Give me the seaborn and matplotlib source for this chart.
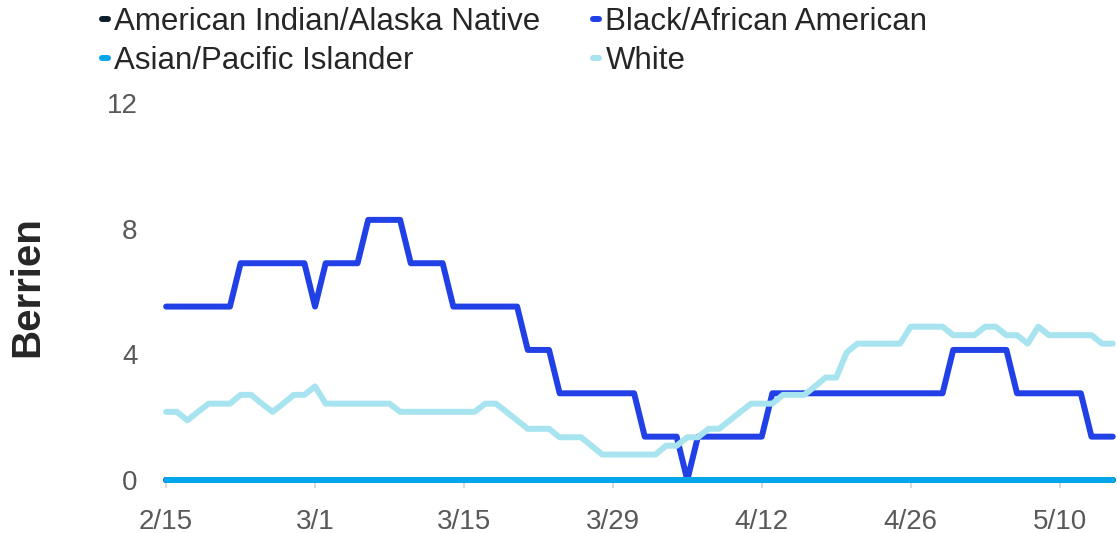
import pandas as pd
import matplotlib
matplotlib.use("Agg")
import matplotlib.pyplot as plt
import matplotlib.dates as mdates
from matplotlib.lines import Line2D
import seaborn as sns

# daily rates, 2/15 - 5/15
start_date = "2021-02-15"
n_days = 90

am_indian = [0.0] * n_days
asian = [0.0] * n_days

black = [
    5.52, 5.52, 5.52, 5.52, 5.52, 5.52, 5.52, 6.90, 6.90, 6.90,
    6.90, 6.90, 6.90, 6.90, 5.52, 6.90, 6.90, 6.90, 6.90, 8.28,
    8.28, 8.28, 8.28, 6.90, 6.90, 6.90, 6.90, 5.52, 5.52, 5.52,
    5.52, 5.52, 5.52, 5.52, 4.14, 4.14, 4.14, 2.76, 2.76, 2.76,
    2.76, 2.76, 2.76, 2.76, 2.76, 1.38, 1.38, 1.38, 1.38, 0.00,
    1.38, 1.38, 1.38, 1.38, 1.38, 1.38, 1.38, 2.76, 2.76, 2.76,
    2.76, 2.76, 2.76, 2.76, 2.76, 2.76, 2.76, 2.76, 2.76, 2.76,
    2.76, 2.76, 2.76, 2.76, 4.14, 4.14, 4.14, 4.14, 4.14, 4.14,
    2.76, 2.76, 2.76, 2.76, 2.76, 2.76, 2.76, 1.38, 1.38, 1.38,
]

white = [
    2.17, 2.17, 1.90, 2.17, 2.43, 2.43, 2.43, 2.71, 2.71, 2.43,
    2.17, 2.43, 2.71, 2.71, 2.98, 2.43, 2.43, 2.43, 2.43, 2.43,
    2.43, 2.43, 2.17, 2.17, 2.17, 2.17, 2.17, 2.17, 2.17, 2.17,
    2.43, 2.43, 2.17, 1.90, 1.63, 1.63, 1.63, 1.36, 1.36, 1.36,
    1.09, 0.81, 0.81, 0.81, 0.81, 0.81, 0.81, 1.09, 1.09, 1.36,
    1.36, 1.63, 1.63, 1.90, 2.17, 2.43, 2.43, 2.43, 2.71, 2.71,
    2.71, 2.98, 3.26, 3.26, 4.07, 4.34, 4.34, 4.34, 4.34, 4.34,
    4.88, 4.88, 4.88, 4.88, 4.61, 4.61, 4.61, 4.88, 4.88, 4.61,
    4.61, 4.34, 4.88, 4.61, 4.61, 4.61, 4.61, 4.61, 4.34, 4.34,
]

groups = ["American Indian/Alaska Native", "Black/African American",
          "Asian/Pacific Islander", "White"]
colors = ["#0d1f2d", "#2140e6", "#04a6ea", "#a8e4ef"]

dates = pd.date_range(start_date, periods=n_days)
df = pd.concat([
    pd.DataFrame({"date": dates, "rate": vals, "race": g})
    for g, vals in zip(groups, [am_indian, black, asian, white])
])

sns.set_style("white")
plt.rcParams["font.family"] = ["Liberation Sans", "DejaVu Sans"]

fig = plt.figure(figsize=(11.17, 5.33), dpi=100)
ax = fig.add_axes([164 / 1117, 53 / 533, 953 / 1117, 377 / 533])

sns.lineplot(data=df, x="date", y="rate", hue="race", hue_order=groups,
             palette=dict(zip(groups, colors)), linewidth=4.3,
             legend=False, ax=ax, clip_on=False, solid_capstyle="round",
             solid_joinstyle="round")

ax.set_xlim(dates[0] - pd.Timedelta(days=0.2), dates[-1] + pd.Timedelta(days=0.4))
ax.set_ylim(0, 12)
ax.set_yticks([0, 4, 8, 12])
ax.set_xticks(dates[::14])
ax.xaxis.set_major_formatter(mdates.DateFormatter("%-m/%-d"))
ax.tick_params(axis="x", labelsize=20, labelcolor="#595959", color="#d9d9d9",
               length=6, width=1.5, pad=15, direction="out", bottom=True)
ax.tick_params(axis="y", labelsize=20, labelcolor="#595959", length=0, pad=19)
ax.set_xlabel("")
ax.set_ylabel("")
sns.despine(ax=ax, left=True, bottom=True)

fig.text(27 / 1117, 1 - 287 / 533, "Berrien", rotation=90, ha="center",
         va="center", fontsize=29, fontweight="bold")

handles = [Line2D([], [], color=c, linewidth=4.3, solid_capstyle="round")
           for c in colors]
leg_order = [0, 2, 1, 3]
fig.legend([handles[i] for i in leg_order], [groups[i] for i in leg_order],
           ncol=2, loc="upper left", bbox_to_anchor=(102 / 1117, 1 - 7 / 533),
           frameon=False, fontsize=22.5, handlelength=0.2, handletextpad=0.2,
           columnspacing=1.67, labelspacing=0.3, borderpad=0, borderaxespad=0)

fig.savefig("out.png", dpi=100, facecolor="white")
